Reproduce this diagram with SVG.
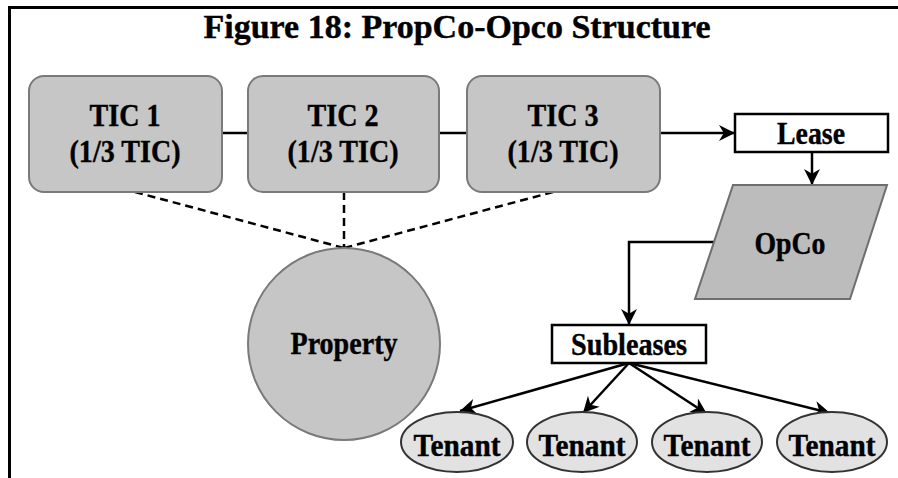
<svg xmlns="http://www.w3.org/2000/svg" width="898" height="478" viewBox="0 0 898 478">
  <style>
    text { font-family: "Liberation Serif", "Times New Roman", serif; font-weight: bold; fill: #000; text-anchor: middle; stroke: #000; stroke-width: 0.4; }
    .title { font-size: 34px; }
    .lbl { font-size: 32px; }
    .tic { fill: #c6c6c6; stroke: #7a7a7a; stroke-width: 2; }
    .plain { fill: #fff; stroke: #000; stroke-width: 2.5; }
    .opco { fill: #bcbcbc; stroke: #6e6e6e; stroke-width: 2; }
    .tenant { fill: #e2e2e2; stroke: #333; stroke-width: 2; }
    .link { fill: none; stroke: #000; stroke-width: 2.5; }
    .dash { fill: none; stroke: #000; stroke-width: 2.5; stroke-dasharray: 8 5; }
    .arrow { marker-end: url(#head); }
  </style>
  <defs>
    <marker id="head" viewBox="0 0 10 10" refX="10" refY="5" markerUnits="userSpaceOnUse" markerWidth="18" markerHeight="16" orient="auto">
      <path d="M0,0 L10,5 L0,10 L3,5 Z" fill="#000"/>
    </marker>
  </defs>

  <rect width="898" height="478" fill="#fff"/>

  <!-- frame: top rule and left rule -->
  <path d="M9.5,478 V7.5 H898" fill="none" stroke="#000" stroke-width="3"/>

  <text class="title" x="457" y="38">Figure 18: PropCo-Opco Structure</text>

  <!-- connectors -->
  <g id="connectors">
    <line class="link" x1="222" y1="133" x2="248" y2="133"/>
    <line class="link" x1="439" y1="133" x2="467" y2="133"/>
    <line class="link arrow" x1="660" y1="133" x2="735" y2="133"/>
    <line class="link arrow" x1="812" y1="152" x2="812" y2="185"/>
    <polyline class="link arrow" points="720,242 629,242 629,325"/>
    <line class="link arrow" x1="629" y1="363" x2="460" y2="411"/>
    <line class="link arrow" x1="629" y1="363" x2="583" y2="413"/>
    <line class="link arrow" x1="629" y1="363" x2="707" y2="414"/>
    <line class="link arrow" x1="629" y1="363" x2="830" y2="413"/>
    <line class="dash" x1="135" y1="192" x2="344" y2="248"/>
    <line class="dash" x1="344" y1="192" x2="344" y2="248"/>
    <line class="dash" x1="553" y1="192" x2="344" y2="248"/>
  </g>

  <g id="tic1">
    <rect class="tic" x="29" y="76" width="193" height="116" rx="15"/>
    <text class="lbl" x="125" y="126" textLength="71" lengthAdjust="spacingAndGlyphs">TIC 1</text>
    <text class="lbl" x="125" y="162" textLength="111" lengthAdjust="spacingAndGlyphs">(1/3 TIC)</text>
  </g>
  <g id="tic2">
    <rect class="tic" x="248" y="76" width="191" height="116" rx="15"/>
    <text class="lbl" x="343" y="126" textLength="71" lengthAdjust="spacingAndGlyphs">TIC 2</text>
    <text class="lbl" x="343" y="162" textLength="111" lengthAdjust="spacingAndGlyphs">(1/3 TIC)</text>
  </g>
  <g id="tic3">
    <rect class="tic" x="467" y="76" width="193" height="116" rx="15"/>
    <text class="lbl" x="563" y="126" textLength="71" lengthAdjust="spacingAndGlyphs">TIC 3</text>
    <text class="lbl" x="563" y="162" textLength="111" lengthAdjust="spacingAndGlyphs">(1/3 TIC)</text>
  </g>

  <g id="lease">
    <rect class="plain" x="735" y="114" width="153" height="38"/>
    <text class="lbl" x="811" y="144" textLength="68" lengthAdjust="spacingAndGlyphs">Lease</text>
  </g>

  <g id="opco">
    <polygon class="opco" points="733,185 887,185 850,299 695,299"/>
    <text class="lbl" x="790" y="254" textLength="71" lengthAdjust="spacingAndGlyphs">OpCo</text>
  </g>

  <g id="property">
    <circle class="tic" cx="344" cy="344" r="96"/>
    <text class="lbl" x="344" y="354" textLength="107" lengthAdjust="spacingAndGlyphs">Property</text>
  </g>

  <g id="subleases">
    <rect class="plain" x="552" y="325" width="154" height="38"/>
    <text class="lbl" x="629" y="355" textLength="116" lengthAdjust="spacingAndGlyphs">Subleases</text>
  </g>

  <g id="tenant1">
    <ellipse class="tenant" cx="457" cy="442" rx="56" ry="30"/>
    <text class="lbl" x="457" y="456" textLength="87" lengthAdjust="spacingAndGlyphs">Tenant</text>
  </g>
  <g id="tenant2">
    <ellipse class="tenant" cx="582" cy="442" rx="55" ry="30"/>
    <text class="lbl" x="582" y="456" textLength="87" lengthAdjust="spacingAndGlyphs">Tenant</text>
  </g>
  <g id="tenant3">
    <ellipse class="tenant" cx="707" cy="442" rx="55" ry="30"/>
    <text class="lbl" x="707" y="456" textLength="87" lengthAdjust="spacingAndGlyphs">Tenant</text>
  </g>
  <g id="tenant4">
    <ellipse class="tenant" cx="832" cy="442" rx="55" ry="30"/>
    <text class="lbl" x="832" y="456" textLength="87" lengthAdjust="spacingAndGlyphs">Tenant</text>
  </g>
</svg>
